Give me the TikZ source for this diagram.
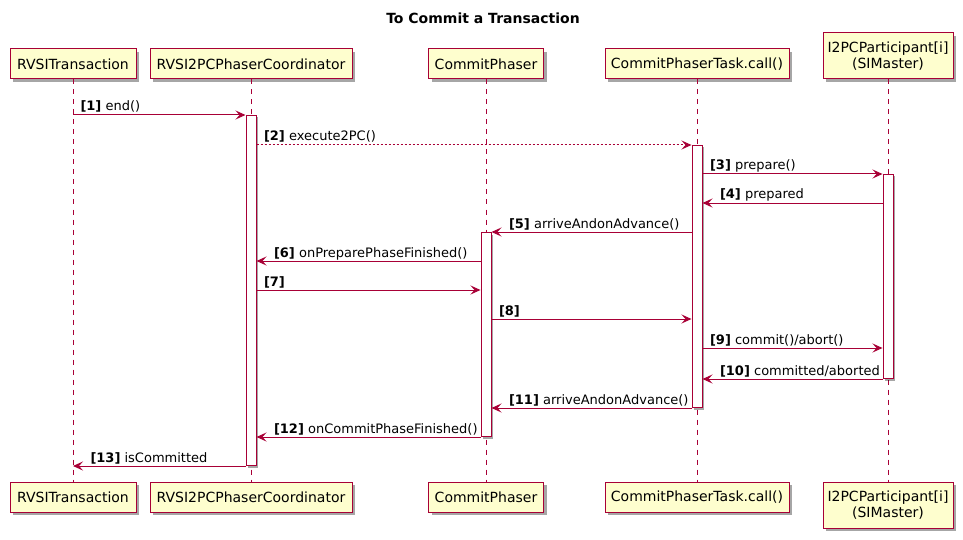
\documentclass[tikz,border=0pt]{standalone}
\usepackage{fontspec}
\setmainfont{DejaVu Sans}
\usetikzlibrary{arrows.meta,shadows}
\definecolor{umlred}{HTML}{A80036}
\definecolor{umlfill}{HTML}{FEFECE}
\tikzset{
  party/.style={draw=umlred, fill=umlfill, line width=1pt, inner sep=0pt,
    align=center, font=\fontsize{14}{16}\selectfont,
    drop shadow={shadow xshift=3pt, shadow yshift=-3pt, opacity=.35, fill=black}},
  actbar/.style={draw=umlred, fill=white, line width=1pt, inner sep=0pt,
    minimum width=10pt,
    drop shadow={shadow xshift=2pt, shadow yshift=-2pt, opacity=.35, fill=black}},
  life/.style={draw=umlred, line width=.8pt, dash pattern=on 5pt off 5pt},
  msg/.style={draw=umlred, line width=1pt,
    -{Stealth[length=10pt, width=9pt, inset=4pt]}},
  reply/.style={msg, dash pattern=on 2pt off 2pt},
  fwd/.style={pos=0, anchor=base west, xshift=7pt, yshift=4pt,
    inner sep=0pt, font=\fontsize{13}{15}\selectfont},
  back/.style={pos=1, anchor=base west, xshift=17pt, yshift=4pt,
    inner sep=0pt, font=\fontsize{13}{15}\selectfont}
}
\begin{document}
\begin{tikzpicture}[x=1pt, y=-1pt]
      \useasboundingbox (0,0) rectangle (963,540);

      % Title
      \node[font=\fontsize{14}{16}\selectfont\bfseries] (title) at (483,18)
        {To Commit a Transaction};

      % Participants
      \node[party, minimum width=126, minimum height=30] (txTop) at (73,64)
        {RVSITransaction};
      \node[party, minimum width=202, minimum height=30] (coTop) at (251,64)
        {RVSI2PCPhaserCoordinator};
      \node[party, minimum width=115, minimum height=30] (phTop) at (486,64)
        {CommitPhaser};
      \node[party, minimum width=184, minimum height=30] (taTop) at (697,64)
        {CommitPhaserTask.call()};
      \node[party, minimum width=130, minimum height=46] (paTop) at (888,56)
        {I2PCParticipant[i]\\(SIMaster)};

      \node[party, minimum width=126, minimum height=30] (txBot) at (73,497)
        {RVSITransaction};
      \node[party, minimum width=202, minimum height=30] (coBot) at (251,497)
        {RVSI2PCPhaserCoordinator};
      \node[party, minimum width=115, minimum height=30] (phBot) at (486,497)
        {CommitPhaser};
      \node[party, minimum width=184, minimum height=30] (taBot) at (697,497)
        {CommitPhaserTask.call()};
      \node[party, minimum width=130, minimum height=46] (paBot) at (888,505)
        {I2PCParticipant[i]\\(SIMaster)};

      % Lifelines
      \foreach \who in {tx,co,ph,ta,pa}
        \draw[life] (\who Top.south) -- (\who Bot.north);

      % Activations
      \node[actbar, anchor=north, minimum height=350] (coAct) at (251,115) {};
      \node[actbar, anchor=north, minimum height=262] (taAct) at (697,145) {};
      \node[actbar, anchor=north, minimum height=204] (paAct) at (888,174) {};
      \node[actbar, anchor=north, minimum height=204] (phAct) at (486,232) {};

      % Messages
      \draw[msg] (txTop.south |- coAct.north) -- (coAct.north west)
        node[fwd]{\textbf{[1]} end()};
      \draw[reply] (coAct.east |- taAct.north) -- (taAct.north west)
        node[fwd]{\textbf{[2]} execute2PC()};
      \draw[msg] (taAct.east |- paAct.north) -- (paAct.north west)
        node[fwd]{\textbf{[3]} prepare()};
      \draw[msg] (paAct.west |- 0,203) -- (taAct.east |- 0,203)
        node[back]{\textbf{[4]} prepared};
      \draw[msg] (taAct.west |- phAct.north) -- (phAct.north east)
        node[back]{\textbf{[5]} arriveAndonAdvance()};
      \draw[msg] (phAct.west |- 0,261) -- (coAct.east |- 0,261)
        node[back]{\textbf{[6]} onPreparePhaseFinished()};
      \draw[msg] (coAct.east |- 0,290) -- (phAct.west |- 0,290)
        node[fwd]{\textbf{[7]}};
      \draw[msg] (phAct.east |- 0,319) -- (taAct.west |- 0,319)
        node[fwd]{\textbf{[8]}};
      \draw[msg] (taAct.east |- 0,348) -- (paAct.west |- 0,348)
        node[fwd]{\textbf{[9]} commit()/abort()};
      \draw[msg] (paAct.south west) -- (taAct.east |- paAct.south)
        node[back]{\textbf{[10]} committed/aborted};
      \draw[msg] (taAct.south west) -- (phAct.east |- taAct.south)
        node[back]{\textbf{[11]} arriveAndonAdvance()};
      \draw[msg] (phAct.south west) -- (coAct.east |- phAct.south)
        node[back]{\textbf{[12]} onCommitPhaseFinished()};
      \draw[msg] (coAct.south west) -- (txTop.south |- coAct.south)
        node[back]{\textbf{[13]} isCommitted};
\end{tikzpicture}
\end{document}
